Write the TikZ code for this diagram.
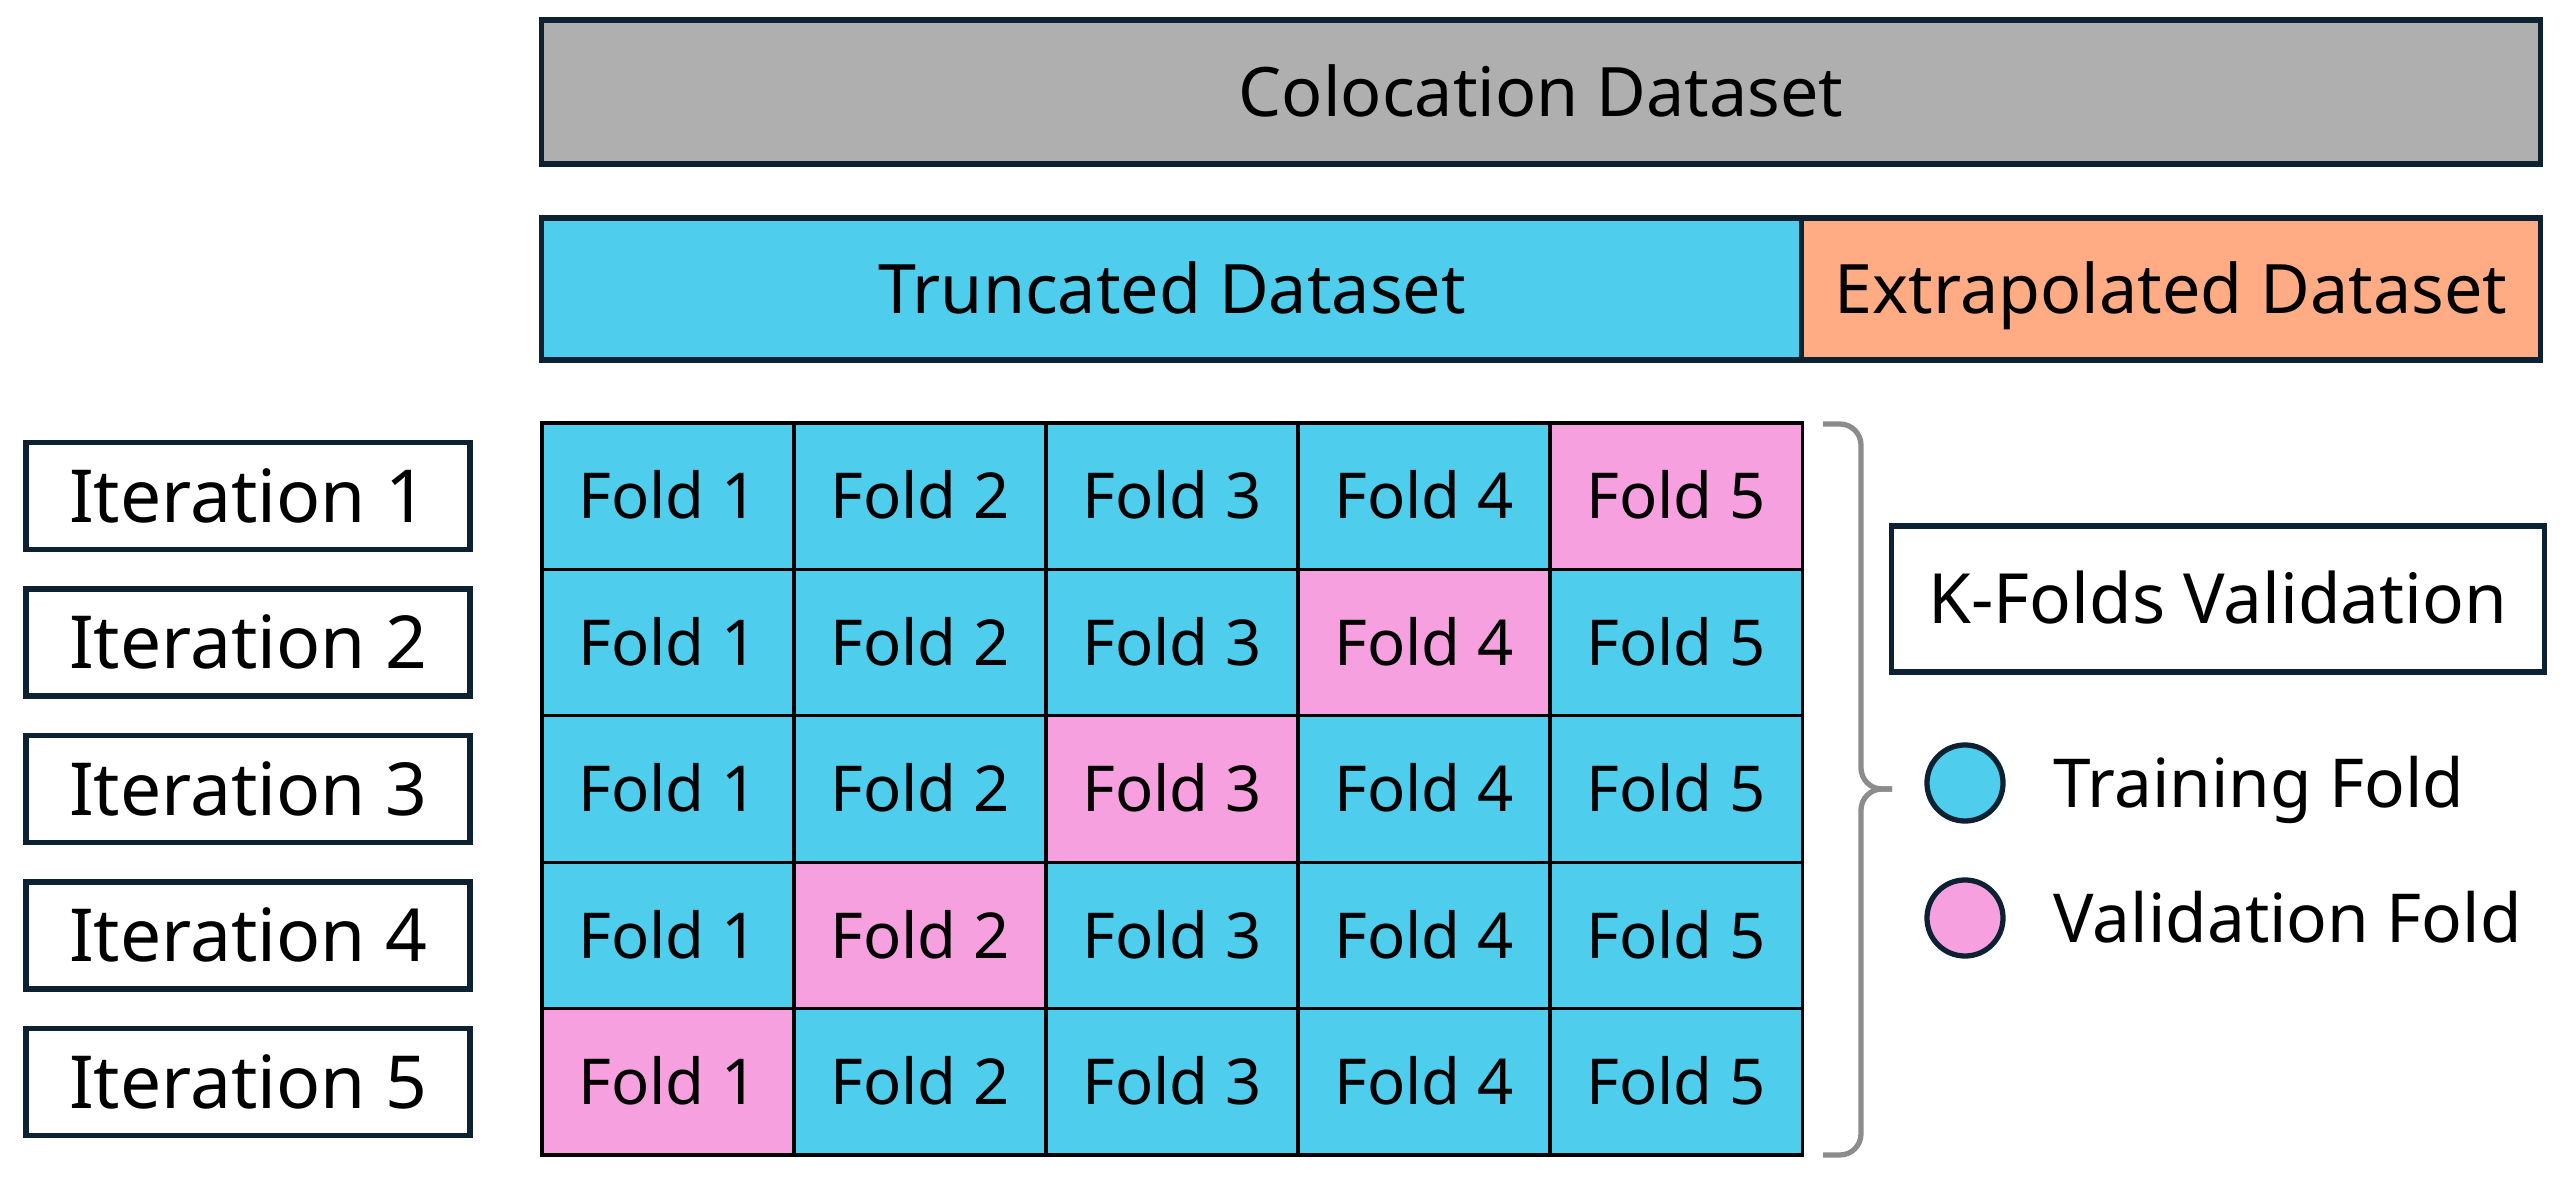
\documentclass[tikz,border=0pt]{standalone}
\usepackage{fontspec}
\setmainfont{Noto Sans}
\definecolor{cyanf}{HTML}{4ECDED}
\definecolor{pinkf}{HTML}{F7A0E0}
\definecolor{orangef}{HTML}{FFAC85}
\definecolor{grayf}{HTML}{AFAFAF}
\definecolor{edgec}{HTML}{0C2233}
\definecolor{bracec}{HTML}{8C8C8C}
\begin{document}
\begin{tikzpicture}[x=0.01cm,y=-0.01cm,
  bigbox/.style={draw=edgec, line width=1.5pt, inner sep=0pt, text height=13.9pt, text depth=0pt, font=\fontsize{19.4}{23}\selectfont},
  itbox/.style={draw=edgec, line width=1.5pt, fill=white, inner sep=0pt, minimum width=4.44cm, minimum height=1.07cm, text height=14.9pt, text depth=0pt, font=\fontsize{20.8}{24}\selectfont},
  cell/.style={draw=black, line width=0.9pt, inner sep=0pt, minimum width=2.52cm, minimum height=1.464cm, text height=12.9pt, text depth=0pt, font=\fontsize{18}{21}\selectfont},
  legdot/.style={circle, draw=edgec, line width=1.5pt, minimum size=0.76cm, inner sep=0pt},
  legtext/.style={anchor=west, inner sep=0pt, text height=13.7pt, text depth=0pt, font=\fontsize{19.2}{23}\selectfont},
  brace/.style={draw=bracec, line width=1.5pt, rounded corners=6}]
\useasboundingbox (0,0) rectangle (2568,1182);
\node[bigbox, fill=grayf, minimum width=19.98cm, minimum height=1.44cm] (colo) at (1541,92) {Colocation Dataset};
\node[bigbox, fill=cyanf, minimum width=12.60cm, minimum height=1.42cm] (trunc) at (1172,289) {Truncated Dataset};
\node[bigbox, fill=orangef, minimum width=7.38cm, minimum height=1.42cm] (extra) at (2171,289) {Extrapolated Dataset};
\foreach \i in {1,...,5}{
  \node[itbox] (it\i) at (248,{423+146.4*(\i-0.5)}) {Iteration \i};
  \foreach \j in {1,...,5}{
    \pgfmathtruncatemacro{\v}{6-\i}
    \ifnum\j=\v
      \node[cell, fill=pinkf] (c\i\j) at ({542+252*(\j-0.5)},{423+146.4*(\i-0.5)}) {Fold \j};
    \else
      \node[cell, fill=cyanf] (c\i\j) at ({542+252*(\j-0.5)},{423+146.4*(\i-0.5)}) {Fold \j};
    \fi
  }
}
\node[bigbox, fill=white, minimum width=6.52cm, minimum height=1.46cm, text height=14.1pt, font=\fontsize{19.7}{23}\selectfont] (kf) at (2218,599) {K-Folds Validation};
\node[legdot, fill=cyanf] (dt) at (1965,783) {};
\node[legtext] (lt) at (2053,783) {Training Fold};
\node[legdot, fill=pinkf] (dv) at (1965,918) {};
\node[legtext] (lv) at (2053,918) {Validation Fold};
\coordinate (bt) at (1823,424);
\coordinate (bb) at (1823,1155);
\coordinate (bm) at (1892,789);
\draw[brace] (bt) -- (1861,424) -- (1861,789) -- (bm);
\draw[brace] (bb) -- (1861,1155) -- (1861,789) -- (bm);
\end{tikzpicture}
\end{document}
